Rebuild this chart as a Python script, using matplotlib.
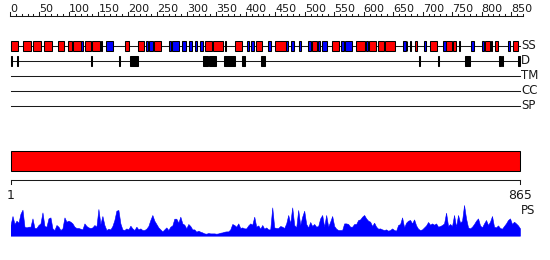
import matplotlib
matplotlib.use('Agg')
import matplotlib.pyplot as plt
from matplotlib.patches import Rectangle
import numpy as np

# ---------------- data ----------------
SEQ_LEN = 865
RULER_LABELS = list(range(0, 851, 50))
RULER_MINOR = list(range(0, 871, 10))

HELIX = [(1, 14), (23, 35), (40, 52), (58, 72), (82, 92), (98, 106), (107, 120),
         (127, 138), (140, 152), (154, 156), (195, 202), (218, 228), (244, 257),
         (331, 342), (345, 361), (365, 367), (382, 393), (417, 428), (450, 469),
         (512, 520), (546, 558), (587, 602), (609, 620), (625, 634), (636, 653),
         (673, 674), (687, 691), (713, 724), (740, 749), (751, 757), (805, 814),
         (816, 818), (823, 828), (853, 862)]
STRAND = [(121, 124), (163, 174), (231, 234), (236, 242), (270, 274), (275, 286),
          (292, 298), (304, 309), (314, 318), (322, 328), (402, 406), (408, 414),
          (437, 442), (469, 471), (476, 481), (491, 493), (506, 511), (523, 525),
          (529, 538), (562, 566), (568, 580), (604, 608), (667, 672), (678, 681),
          (702, 705), (734, 739), (762, 763), (782, 787), (800, 804), (845, 848)]
DOMAIN = [(1, 1), (12, 13), (137, 138), (185, 185), (204, 217), (328, 336),
          (338, 349), (363, 381), (394, 398), (426, 432), (693, 694), (726, 726),
          (772, 780), (830, 832), (834, 836), (862, 865)]
TRACKS = ['SS', 'D', 'TM', 'CC', 'SP']
BAR_LABELS = ['1', '865']

PS = [10.7, 19.7, 11.7, 15, 13, 22, 26, 9, 8.3, 9, 9, 17.3, 7.7, 7.7, 10.7, 12.3,
      23.3, 9.7, 9, 17.3, 18.3, 7.3, 5.7, 10.7, 9, 5.7, 7.3, 18.3, 14, 15, 14, 12.3,
      9, 7.7, 7.7, 7, 6.3, 12.3, 9.7, 8.3, 7.7, 8.3, 10.7, 9, 26.7, 11.7, 19.7, 10.7,
      5.7, 7, 6.3, 9.7, 15.7, 25, 25.7, 12.3, 6.3, 5.7, 7.3, 6.3, 10, 7.3, 5.7, 9,
      6.3, 7.3,
      5.7, 5.7, 7, 9.7, 15.7, 20.7, 15, 11.7, 8.3, 6.3, 4.3, 6.3, 8.3, 5.7, 9, 10.3,
      17, 17, 13, 19, 12.3, 11, 7.3, 11.7, 9.7, 6.3, 6.3, 4, 5, 4, 3.3, 2.3, 2, 2.7,
      2.3, 2.3, 2.3, 2, 2.3, 3, 3.3, 4, 4.3, 4.3, 6.3, 11.7, 10.7, 9, 12.3, 7.7, 8.3,
      7.3, 7.3, 10.3, 12.3, 11, 19, 9, 10.3, 7, 10.7, 7, 8.3, 6.3,
      6.3, 28.3, 8.3, 7.7, 7.7, 9.7, 9, 7.7, 12.3, 20.7, 12.3, 28.3, 10.7, 8.3, 25.7,
      10.7, 19, 25, 11.7, 8.3, 13.7, 9.7, 11.7, 9, 9.7, 17.3, 20.7, 9, 20.7, 9, 14,
      19.7, 9.7, 7, 5.7, 5.7, 5.7, 12.3, 12.3, 11.7, 9, 9, 11.7, 11.7, 15.7, 16.3, 19,
      20.7, 17.3, 15, 14, 9.7, 13, 9, 7, 7.3, 6.3, 5.7, 6.3, 5, 5.7, 7.3, 5.7, 5,
      10.7, 11.7, 18.3, 8.3, 13, 15, 15.7, 12.3, 16.3, 10.3, 7, 5.7, 6.3, 8.3, 10.3,
      13.7, 11, 12.3, 11, 12.3, 9, 9.7, 10.7, 12.3, 23, 9.7, 11.7, 9.7, 20.7, 9, 20.7,
      13, 15, 30.7, 17.3, 8.3, 7.3, 9, 11.7, 15, 17.3, 10.3, 8.3, 12.3, 15.7, 10.7, 14,
      19.7, 9, 8.3, 10.3, 7.7, 7, 9.7, 12.3, 15.7, 17.3, 11.7, 14, 12.3, 10.3, 7.3]

# ---------------- layout ----------------
W, H = 550, 260
X0, X1 = 10.5, 520.0          # pixel positions of residue 1 and residue SEQ_LEN
S = (X1 - X0) / (SEQ_LEN - 1)
RED, BLUE, INK = '#ff0000', '#0000ff', '#1a1a1a'
LW = 0.75

fig = plt.figure(figsize=(W / 100, H / 100), dpi=100)
ax = fig.add_axes([0, 0, 1, 1])
ax.set_xlim(1 - X0 / S, 1 + (W - X0) / S)
ax.set_ylim(H, 0)
ax.axis('off')

# top ruler
ruler_y = 15.5
ax.plot([RULER_MINOR[0], RULER_MINOR[-1]], [ruler_y, ruler_y], color=INK, lw=LW)
for t in RULER_MINOR:
    top = 12.0 if t % 50 == 0 else 13.5
    ax.plot([t, t], [top, ruler_y], color=INK, lw=LW)
for t in RULER_LABELS:
    ax.text(t, 11.5, str(t), ha='left', va='baseline', fontsize=8, color=INK)

# tracks
track_y = [45.7, 60.5, 75.5, 90.5, 105.5]
for name, y in zip(TRACKS, track_y):
    ax.plot([1, SEQ_LEN], [y, y], color=INK, lw=LW, zorder=1)
    ax.text(SEQ_LEN + 1.5, y, name, ha='left', va='center', fontsize=8.5, color=INK)

bh = 10
for items, col in ((HELIX, RED), (STRAND, BLUE)):
    for s, e in items:
        ax.add_patch(Rectangle((s, track_y[0] - bh / 2), max(e - s, 1.2), bh,
                               facecolor=col, edgecolor='black', lw=LW, zorder=3))
for s, e in DOMAIN:
    ax.add_patch(Rectangle((s, track_y[1] - bh / 2), max(e - s, 1.7), bh,
                           facecolor='black', edgecolor='black', lw=LW, zorder=3))

# full-length bar
ax.add_patch(Rectangle((1, 150.5), SEQ_LEN - 1, 20, facecolor=RED,
                       edgecolor='black', lw=LW, zorder=3))

# bottom ruler
ax.plot([1, SEQ_LEN], [180, 180], color=INK, lw=LW)
for t, lab in zip([1, SEQ_LEN], BAR_LABELS):
    ax.plot([t, t], [180, 184], color=INK, lw=LW)
    ax.text(t, 195.5, lab, ha='center', va='center', fontsize=9, color=INK)

ax.text(SEQ_LEN + 1.5, 211, 'PS', ha='left', va='center', fontsize=8.5, color=INK)

# profile
base = 235.7
ps_ax = fig.add_axes([X0 / W, (H - base) / H, (X1 - X0) / W, 32 / H])
ps_ax.set_xlim(1, SEQ_LEN)
ps_ax.set_ylim(0, 32)
ps_ax.axis('off')
xs = np.linspace(1, SEQ_LEN, len(PS))
ps_ax.fill_between(xs, 0, PS, color=BLUE, lw=0.4)

fig.savefig('out.png', dpi=100)
